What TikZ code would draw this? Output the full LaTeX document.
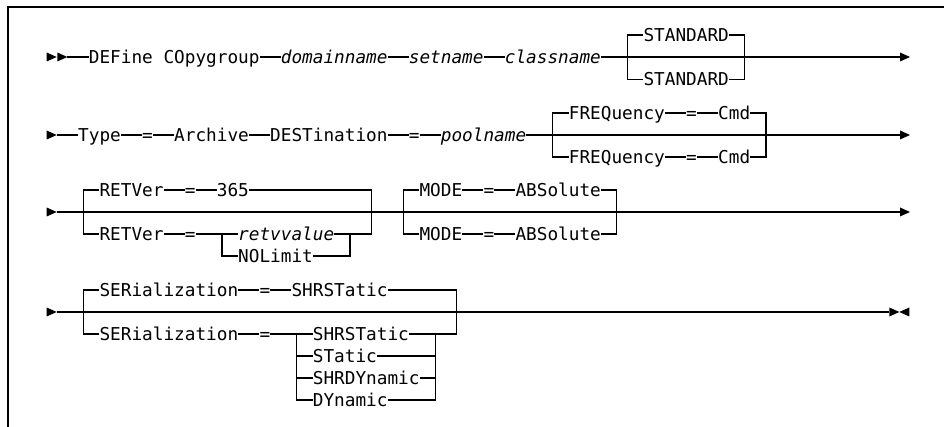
\documentclass[tikz,border=0pt]{standalone}
\usepackage{fontspec}
\setmonofont{DejaVu Sans Mono}
\newcommand\synfont{\ttfamily\fontsize{17.72pt}{20pt}\selectfont}
\tikzset{
  lbl/.style={anchor=west, inner sep=0pt, text height=12.9pt, text depth=0pt, font=\synfont},
  var/.style={lbl, font=\synfont\itshape},
  conn/.style={line width=1.2pt},
  frame/.style={line width=1.5pt},
  rtip/.pic={\fill (0pt,4.5pt) -- (10pt,0pt) -- (0pt,-4.5pt) -- cycle;},
  ltip/.pic={\fill (10pt,4.5pt) -- (0pt,0pt) -- (10pt,-4.5pt) -- cycle;},
}
\begin{document}
\begin{tikzpicture}[x=10.667pt,y=-1pt]
\useasboundingbox (-4.3125,0) rectangle (84.1875,427);
% frame
\coordinate (fbl) at (-3.5625,427);
\coordinate (ftl) at (-3.5625,7);
\coordinate (ftr) at (84.1875,7);
\draw[frame] (fbl) -- (ftl) -- (ftr);

% ---------------- row 1
\pic at (0.0625,57) {rtip};
\pic at (1.0625,57) {rtip};
\coordinate (s1) at (2,57);
\node[lbl] (def) at (4,57) {DEFine COpygroup};
\node[var] (dom) at (22,57) {domainname};
\node[var] (set) at (34,57) {setname};
\node[var] (cls) at (43,57) {classname};
\node[lbl] (stdA) at (56,35) {STANDARD};
\node[lbl] (stdB) at (56,79.5) {STANDARD};
\coordinate (b1l) at (54.5,57);
\coordinate (b1r) at (65.5,57);
\coordinate (e1) at (80.0625,57);
\pic at (e1) {rtip};
\draw[conn] (s1) -- (def.west);
\draw[conn] (def.east) -- (dom.west);
\draw[conn] (dom.east) -- (set.west);
\draw[conn] (set.east) -- (cls.west);
\draw[conn] (cls.east) -- (e1);
\draw[conn] (stdA.west) -| (b1l) |- (stdB.west);
\draw[conn] (stdA.east) -| (b1r) |- (stdB.east);

% ---------------- row 2
\pic at (0.0625,135) {rtip};
\coordinate (s2) at (1,135);
\node[lbl] (type) at (3,135) {Type};
\node[lbl] (eqA) at (9,135) {=};
\node[lbl] (arch) at (12,135) {Archive};
\node[lbl] (dest) at (21,135) {DESTination};
\node[lbl] (eqB) at (34,135) {=};
\node[var] (pool) at (37,135) {poolname};
\node[lbl] (frqA) at (49,113) {FREQuency};
\node[lbl] (eqC) at (60,113) {=};
\node[lbl] (cmdA) at (63,113) {Cmd};
\node[lbl] (frqB) at (49,157) {FREQuency};
\node[lbl] (eqD) at (60,157) {=};
\node[lbl] (cmdB) at (63,157) {Cmd};
\coordinate (b2l) at (47.5,135);
\coordinate (b2r) at (67.5,135);
\coordinate (e2) at (80.0625,135);
\pic at (e2) {rtip};
\draw[conn] (s2) -- (type.west);
\draw[conn] (type.east) -- (eqA.west);
\draw[conn] (eqA.east) -- (arch.west);
\draw[conn] (arch.east) -- (dest.west);
\draw[conn] (dest.east) -- (eqB.west);
\draw[conn] (eqB.east) -- (pool.west);
\draw[conn] (pool.east) -- (e2);
\draw[conn] (frqA.east) -- (eqC.west);
\draw[conn] (eqC.east) -- (cmdA.west);
\draw[conn] (frqB.east) -- (eqD.west);
\draw[conn] (eqD.east) -- (cmdB.west);
\draw[conn] (frqA.west) -| (b2l) |- (frqB.west);
\draw[conn] (cmdA.east) -| (b2r) |- (cmdB.east);

% ---------------- row 3
\pic at (0.0625,212) {rtip};
\coordinate (s3) at (1,212);
\coordinate (e3) at (80.0625,212);
\pic at (e3) {rtip};
\coordinate (b3l) at (3.5,212);
\coordinate (b3r) at (30.5,212);
\coordinate (b3il) at (16.5,234);
\coordinate (b3ir) at (28.5,234);
\node[lbl] (retA) at (5,190) {RETVer};
\node[lbl] (eqE) at (13,190) {=};
\node[lbl] (n365) at (16,190) {365};
\node[lbl] (retB) at (5,234) {RETVer};
\node[lbl] (eqF) at (13,234) {=};
\node[var] (retv) at (18,234) {retvvalue};
\node[lbl] (nol) at (18,256) {NOLimit};
\draw[conn] (s3) -- (e3);
\draw[conn] (retA.east) -- (eqE.west);
\draw[conn] (eqE.east) -- (n365.west);
\draw[conn] (retB.east) -- (eqF.west);
\draw[conn] (eqF.east) -- (retv.west);
\draw[conn] (b3il) |- (nol.west);
\draw[conn] (retv.east) -- (b3ir);
\draw[conn] (nol.east) -| (b3ir);
\draw[conn] (retA.west) -| (b3l) |- (retB.west);
\draw[conn] (n365.east) -| (b3r) |- (b3ir);
% MODE
\coordinate (b3ml) at (33.5,212);
\coordinate (b3mr) at (53.5,212);
\node[lbl] (modeA) at (35,190) {MODE};
\node[lbl] (eqG) at (41,190) {=};
\node[lbl] (absA) at (44,190) {ABSolute};
\node[lbl] (modeB) at (35,234) {MODE};
\node[lbl] (eqH) at (41,234) {=};
\node[lbl] (absB) at (44,234) {ABSolute};
\draw[conn] (modeA.east) -- (eqG.west);
\draw[conn] (eqG.east) -- (absA.west);
\draw[conn] (modeB.east) -- (eqH.west);
\draw[conn] (eqH.east) -- (absB.west);
\draw[conn] (modeA.west) -| (b3ml) |- (modeB.west);
\draw[conn] (absA.east) -| (b3mr) |- (absB.east);

% ---------------- row 4
\pic at (0.0625,312) {rtip};
\coordinate (s4) at (1,312);
\coordinate (e4) at (79.0625,312);
\pic at (e4) {rtip};
\pic at (80,312) {ltip};
\coordinate (b4l) at (3.5,312);
\coordinate (b4r) at (38.5,312);
\coordinate (b4il) at (23.5,334);
\coordinate (b4ir) at (36.5,334);
\node[lbl] (serA) at (5,290) {SERialization};
\node[lbl] (eqI) at (20,290) {=};
\node[lbl] (shA) at (23,290) {SHRSTatic};
\node[lbl] (serB) at (5,334) {SERialization};
\node[lbl] (eqJ) at (20,334) {=};
\node[lbl] (shB) at (25,334) {SHRSTatic};
\node[lbl] (stc) at (25,356) {STatic};
\node[lbl] (shd) at (25,378) {SHRDYnamic};
\node[lbl] (dyn) at (25,400) {DYnamic};
\draw[conn] (s4) -- (e4);
\draw[conn] (serA.east) -- (eqI.west);
\draw[conn] (eqI.east) -- (shA.west);
\draw[conn] (serB.east) -- (eqJ.west);
\draw[conn] (eqJ.east) -- (shB.west);
\draw[conn] (serA.west) -| (b4l) |- (serB.west);
\draw[conn] (shA.east) -| (b4r) |- (b4ir);
\draw[conn] (b4il) |- (dyn.west);
\draw[conn] (stc.west) -- (stc.west -| b4il);
\draw[conn] (shd.west) -- (shd.west -| b4il);
\draw[conn] (shB.east) -- (b4ir);
\draw[conn] (dyn.east) -| (b4ir);
\draw[conn] (stc.east) -- (stc.east -| b4ir);
\draw[conn] (shd.east) -- (shd.east -| b4ir);
\end{tikzpicture}
\end{document}
